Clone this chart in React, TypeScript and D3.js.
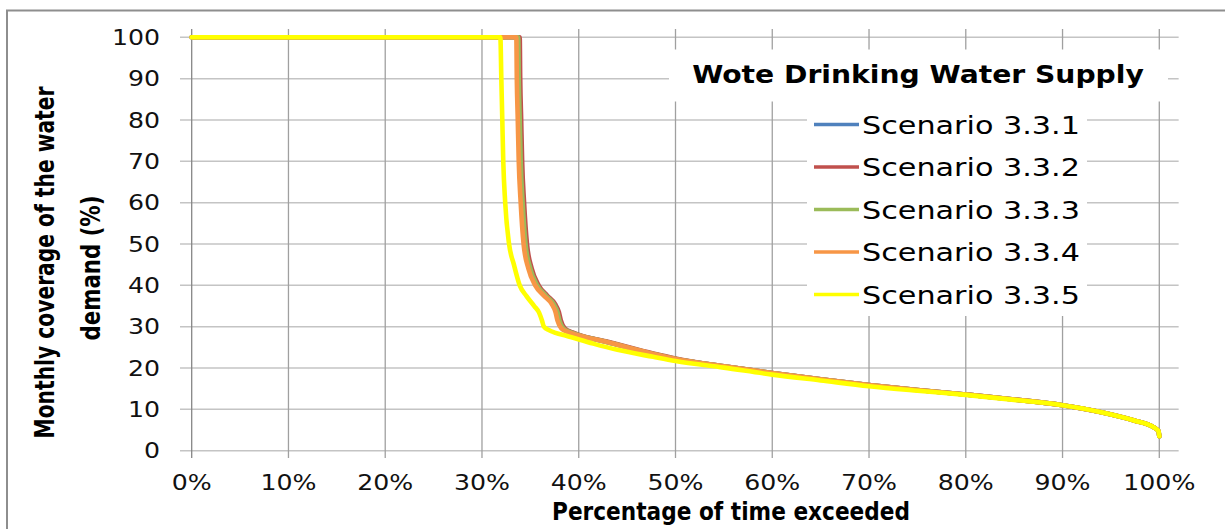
import { useEffect, useRef } from "react";
import * as d3 from "d3";

// x: percentage of time exceeded, y: monthly coverage (%)
const pctTicks = [0, 10, 20, 30, 40, 50, 60, 70, 80, 90, 100];
const coverageTicks = [0, 10, 20, 30, 40, 50, 60, 70, 80, 90, 100];

const scenarioNames = [
  "Scenario 3.3.1",
  "Scenario 3.3.2",
  "Scenario 3.3.3",
  "Scenario 3.3.4",
  "Scenario 3.3.5",
];

const scenario331: [number, number][] = [
  [0, 100], [33.75, 100], [33.8, 90], [33.9, 80], [34.0, 70], [34.2, 60],
  [34.5, 50], [35.0, 44], [35.7, 40], [36.6, 37.5], [37.4, 35.5], [37.8, 33.5],
  [38.0, 31.5], [38.4, 29.6], [39.2, 28.6], [40.1, 27.9], [42.9, 26.3],
  [47.7, 23.4], [50, 22.2], [55, 20.4], [60, 18.8], [65, 17.3], [70, 15.9],
  [75, 14.7], [80, 13.6], [85, 12.4], [90, 11.0], [94, 9.3], [97.4, 7.3],
  [99.4, 5.7], [99.9, 4.8], [100, 3.5],
];

const scenario332: [number, number][] = [
  [0, 100], [33.9, 100], [33.95, 90], [34.05, 80], [34.15, 70], [34.35, 60],
  [34.65, 50], [35.15, 44], [35.85, 40], [36.75, 37.5], [37.55, 35.5],
  [37.95, 33.5], [38.15, 31.5], [38.55, 29.6], [39.35, 28.6], [40.2, 27.9],
  [42.9, 26.4], [47.7, 23.5], [50, 22.3], [55, 20.4], [60, 18.8], [65, 17.3],
  [70, 15.9], [75, 14.7], [80, 13.6], [85, 12.4], [90, 11.0], [94, 9.3],
  [97.4, 7.3], [99.4, 5.7], [99.9, 4.8], [100, 3.5],
];

const scenario333: [number, number][] = [
  [0, 100], [33.75, 100], [33.8, 90], [33.9, 80], [34.0, 70], [34.2, 60],
  [34.5, 50], [35.0, 44], [35.7, 40], [36.6, 37.5], [37.4, 35.5], [37.8, 33.5],
  [38.0, 31.5], [38.4, 29.6], [39.2, 28.6], [40.1, 27.9], [42.9, 26.3],
  [47.7, 23.4], [50, 22.2], [55, 20.4], [60, 18.8], [65, 17.3], [70, 15.9],
  [75, 14.7], [80, 13.6], [85, 12.4], [90, 11.0], [94, 9.3], [97.4, 7.3],
  [99.4, 5.7], [99.9, 4.8], [100, 3.5],
];

const scenario334: [number, number][] = [
  [0, 100], [33.55, 100], [33.6, 90], [33.7, 80], [33.8, 70], [34.0, 60],
  [34.3, 50], [34.8, 44], [35.5, 40], [36.4, 37.5], [37.2, 35.5], [37.6, 33.5],
  [37.8, 31.5], [38.2, 29.6], [39.0, 28.6], [40.0, 27.9], [42.9, 26.3],
  [47.7, 23.4], [50, 22.2], [55, 20.4], [60, 18.8], [65, 17.3], [70, 15.9],
  [75, 14.7], [80, 13.6], [85, 12.4], [90, 11.0], [94, 9.3], [97.4, 7.3],
  [99.4, 5.7], [99.9, 4.8], [100, 3.5],
];

const scenario335: [number, number][] = [
  [0, 100], [31.9, 100], [32.0, 90], [32.1, 80], [32.2, 70], [32.4, 60],
  [32.8, 50], [33.3, 45], [33.9, 40], [34.6, 37.4], [35.4, 35], [35.9, 33.4],
  [36.2, 31.5], [36.4, 30], [36.9, 29.2], [37.6, 28.5], [38.7, 27.8],
  [41.5, 25.9], [44, 24.4], [47.7, 22.7], [50, 21.7], [55, 20.1], [60, 18.4],
  [65, 17.0], [70, 15.6], [75, 14.5], [80, 13.5], [85, 12.3], [90, 11.0],
  [94, 9.3], [97.4, 7.3], [99.4, 5.7], [99.9, 4.8], [100, 3.5],
];

const seriesData = [scenario331, scenario332, scenario333, scenario334, scenario335];
const colors = ["#4F81BD", "#C0504D", "#9BBB59", "#F79646", "#FFFF00"];

export default function App() {
  const svgRef = useRef<SVGSVGElement | null>(null);

  useEffect(() => {
    if (!svgRef.current) return;
    document.body.style.margin = "0";
    document.body.style.overflow = "hidden";

    const W = 1225;
    const H = 529;
    const x = d3.scaleLinear().domain([0, 100]).range([191.7, 1159.3]);
    const y = d3.scaleLinear().domain([0, 100]).range([450.7, 37.3]);

    const root = d3.select(svgRef.current);
    root.selectAll("*").remove();
    const svg = root.attr("width", W).attr("height", H);

    svg.append("rect").attr("width", W).attr("height", H).attr("fill", "#fff");

    // outer frame (runs past the right / bottom edges)
    svg
      .append("rect")
      .attr("x", 7)
      .attr("y", 10.5)
      .attr("width", W)
      .attr("height", H)
      .attr("fill", "none")
      .attr("stroke", "#8e8e8e")
      .attr("stroke-width", 2);

    const font = "'DejaVu Sans', Verdana, sans-serif";

    // squeeze a text horizontally to a measured width
    const fitText = (
      sel: d3.Selection<SVGTextElement, unknown, null, undefined>,
      cx: number,
      cy: number,
      target: number,
      rotate = 0
    ) => {
      const len = sel.node()!.getComputedTextLength() || target;
      sel.attr(
        "transform",
        `translate(${cx},${cy}) rotate(${rotate}) scale(${target / len},1)`
      );
    };

    // horizontal gridlines (with left ticks)
    svg
      .append("g")
      .selectAll("line")
      .data(coverageTicks)
      .enter()
      .append("line")
      .attr("x1", 180)
      .attr("x2", x(102))
      .attr("y1", (d) => y(d))
      .attr("y2", (d) => y(d))
      .attr("stroke", "#c4c4c4")
      .attr("stroke-width", 1.5);

    // vertical gridlines (with bottom ticks)
    svg
      .append("g")
      .selectAll("line")
      .data(pctTicks)
      .enter()
      .append("line")
      .attr("x1", (d) => x(d))
      .attr("x2", (d) => x(d))
      .attr("y1", y(102))
      .attr("y2", 458)
      .attr("stroke", (d) => (d === 0 ? "#868686" : "#a0a0a0"))
      .attr("stroke-width", 1.3);

    // y tick labels
    svg
      .append("g")
      .selectAll("text")
      .data(coverageTicks)
      .enter()
      .append("text")
      .attr("transform", (d) => `translate(160,${y(d) + 7.7}) scale(1.2,1)`)
      .attr("text-anchor", "end")
      .attr("font-family", font)
      .attr("font-size", 21)
      .attr("fill", "#111")
      .text((d) => String(d));

    // x tick labels
    svg
      .append("g")
      .selectAll("text")
      .data(pctTicks)
      .enter()
      .append("text")
      .attr("transform", (d) => `translate(${x(d)},490) scale(1.2,1)`)
      .attr("text-anchor", "middle")
      .attr("font-family", font)
      .attr("font-size", 21)
      .attr("fill", "#111")
      .text((d) => `${d}%`);

    // axis titles
    const xTitle = svg
      .append("text")
      .attr("text-anchor", "middle")
      .attr("font-family", font)
      .attr("font-weight", "bold")
      .attr("font-size", 24)
      .text("Percentage of time exceeded");
    fitText(xTitle, 731, 519.5, 358);

    const yTitle = svg
      .append("g")
      .attr("font-family", font)
      .attr("font-weight", "bold")
      .attr("font-size", 27)
      .attr("text-anchor", "middle");
    fitText(yTitle.append("text").text("Monthly coverage of the water"), 54, 262.5, 352, -90);
    fitText(yTitle.append("text").text("demand (%)"), 99.5, 268, 145, -90);

    // chart title box + legend box
    svg.append("rect").attr("x", 669).attr("y", 49.5).attr("width", 499).attr("height", 52).attr("fill", "#fff");
    svg.append("rect").attr("x", 807).attr("y", 101).attr("width", 280).attr("height", 215).attr("fill", "#fff");

    const title = svg
      .append("text")
      .attr("text-anchor", "middle")
      .attr("font-family", font)
      .attr("font-weight", "bold")
      .attr("font-size", 25)
      .text("Wote Drinking Water Supply");
    fitText(title, 918, 83, 452);

    // series
    const line = d3
      .line<[number, number]>()
      .x((d) => x(d[0]))
      .y((d) => y(d[1]))
      .curve(d3.curveMonotoneX);

    seriesData.forEach((pts, i) => {
      svg
        .append("path")
        .datum(pts)
        .attr("fill", "none")
        .attr("stroke", colors[i])
        .attr("stroke-width", 4.6)
        .attr("stroke-linejoin", "round")
        .attr("stroke-linecap", "round")
        .attr("d", line);
    });

    // legend
    scenarioNames.forEach((name, i) => {
      const g = svg.append("g").attr("transform", `translate(0,${124.5 + i * 42.5})`);
      g.append("line")
        .attr("x1", 814)
        .attr("x2", 859)
        .attr("stroke", colors[i])
        .attr("stroke-width", 3.5);
      const t = g
        .append("text")
        .attr("font-family", font)
        .attr("font-size", 25)
        .attr("fill", "#000")
        .text(name);
      fitText(t, 862, 9, 218);
    });
  }, []);

  return <svg ref={svgRef} style={{ position: "absolute", left: 0, top: 0 }} />;
}
